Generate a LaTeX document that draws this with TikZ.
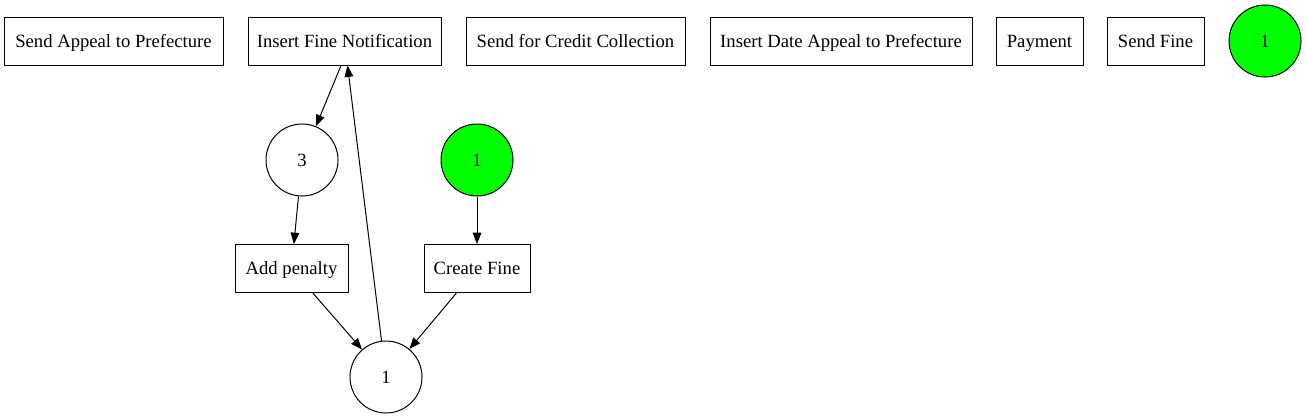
\documentclass[tikz,border=0pt]{standalone}
\usepackage{fontspec}
\setmainfont{Liberation Serif}
\usetikzlibrary{arrows.meta}
\tikzset{
  transbox/.style={draw, line width=0.75pt, rectangle, minimum height=36pt, inner sep=0pt, text height=12.5pt, text depth=3pt, font=\fontsize{14}{16}\selectfont},
  placecirc/.style={draw, line width=0.75pt, circle, minimum size=54pt, inner sep=0pt, font=\fontsize{14}{16}\selectfont},
  markedcirc/.style={placecirc, fill=green},
  flowarrow/.style={line width=0.75pt, -{Triangle[length=8.5pt,width=6.5pt]}}
}
\begin{document}
\begin{tikzpicture}[x=0.75pt, y=-0.75pt]
			%%%%% START %%%%%
			\useasboundingbox (0, 0) rectangle (1307, 419);
			
			\node[transbox, minimum width=164.25pt] (sendappeal) at (113.5, 41) {Send Appeal to Prefecture};
			\node[transbox, minimum width=144.75pt] (insertnotif) at (344.5, 41) {Insert Fine Notification};
			\node[transbox, minimum width=164.25pt] (sendcredit) at (575.5, 41) {Send for Credit Collection};
			\node[transbox, minimum width=196.5pt] (insertdate) at (841, 41) {Insert Date Appeal to Prefecture};
			\node[transbox, minimum width=65.25pt] (payment) at (1039.5, 41) {Payment};
			\node[transbox, minimum width=72.75pt] (sendfine) at (1155.5, 41) {Send Fine};
			\node[markedcirc] (sink) at (1265, 41) {1};
			
			\node[placecirc] (pthree) at (302, 160) {3};
			\node[markedcirc] (source) at (477, 160) {1};
			
			\node[transbox, minimum width=84.75pt] (addpenalty) at (291.5, 268.5) {Add penalty};
			\node[transbox, minimum width=79.5pt] (createfine) at (477, 268.5) {Create Fine};
			
			\node[placecirc] (pone) at (386, 377) {1};
			
			\draw[flowarrow] ([xshift=-2.6pt]insertnotif.south) -- (pthree);
			\draw[flowarrow] (pthree) -- (addpenalty);
			\draw[flowarrow] (addpenalty) -- (pone);
			\draw[flowarrow] (source) -- (createfine);
			\draw[flowarrow] (createfine) -- (pone);
			\draw[flowarrow] (pone) -- (insertnotif);
			
			%%%%% END %%%%%
\end{tikzpicture}
\end{document}
